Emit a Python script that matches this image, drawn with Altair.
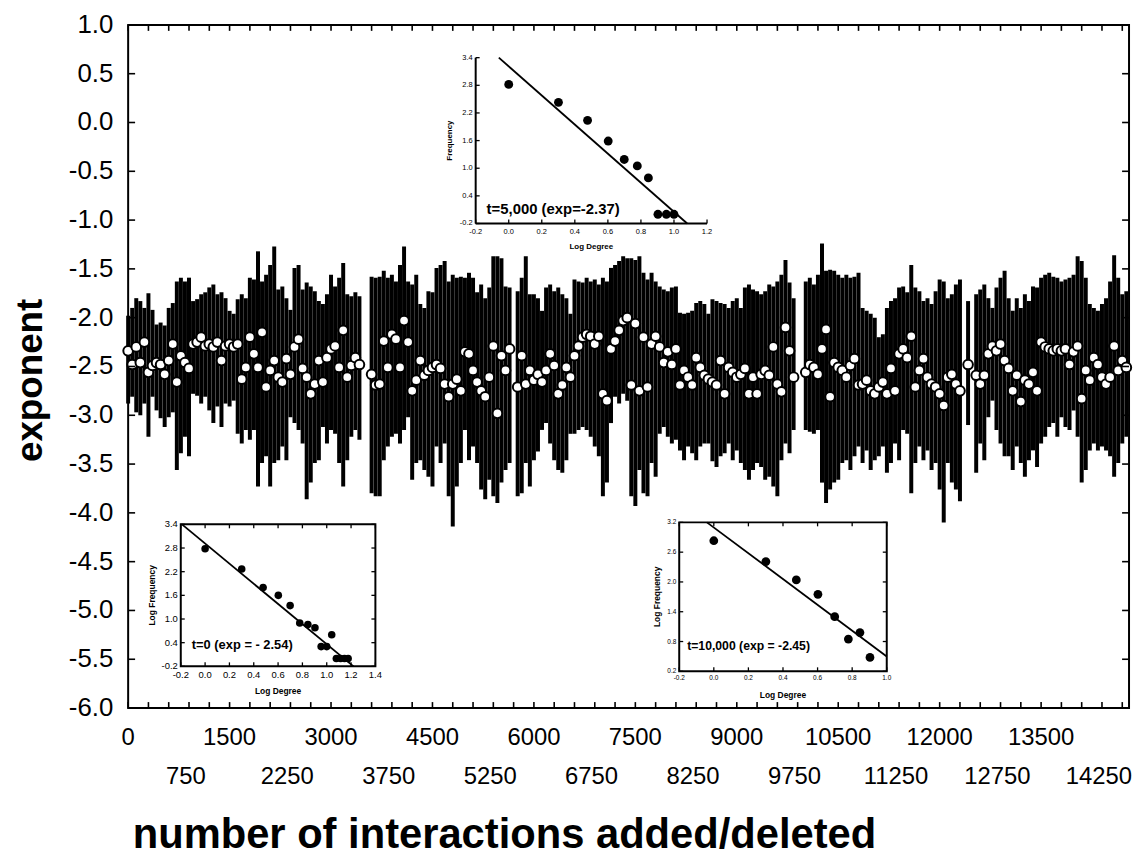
import altair as alt
import pandas as pd

FONT = "Liberation Sans"
W, H = 1008, 688          # plot area in px

# ---------------- main series (exponent vs interactions) ----------------
x_pos = [
    0, 60, 120, 180, 240, 300, 360, 420, 480, 540,
    600, 660, 720, 780, 840, 900, 960, 1020, 1080, 1140,
    1200, 1260, 1320, 1380, 1440, 1500, 1560, 1620, 1680, 1740,
    1800, 1860, 1920, 1980, 2040, 2100, 2160, 2220, 2280, 2340,
    2400, 2460, 2520, 2580, 2640, 2700, 2760, 2820, 2880, 2940,
    3000, 3060, 3120, 3180, 3240, 3300, 3360, 3420, 3600, 3660,
    3720, 3780, 3840, 3900, 3960, 4020, 4080, 4140, 4200, 4260,
    4320, 4380, 4440, 4500, 4560, 4620, 4680, 4740, 4800, 4860,
    4920, 4980, 5040, 5100, 5160, 5220, 5280, 5340, 5400, 5460,
    5520, 5580, 5640,
    5760, 5820, 5880, 5940, 6000, 6060, 6120, 6180, 6240, 6300,
    6360, 6420, 6480, 6540, 6600, 6660, 6720, 6780, 6840, 6900,
    6960, 7020, 7080, 7140, 7200, 7260, 7320, 7380,
    7440, 7500, 7560, 7620, 7680, 7740, 7800, 7860, 7920, 7980,
    8040, 8100, 8160, 8220, 8280, 8340, 8400, 8460, 8520, 8580,
    8640, 8700, 8760, 8820, 8880, 8940, 9000, 9060, 9120, 9180,
    9240, 9300, 9360, 9420, 9480, 9540, 9600, 9660, 9720, 9780,
    9840,
    10020, 10080, 10140, 10200, 10260, 10320, 10380, 10440, 10500, 10560,
    10620, 10680, 10740, 10800, 10860, 10920, 10980, 11040, 11100,
    11160, 11220, 11280, 11340, 11400, 11460, 11520, 11580, 11640, 11700,
    11760, 11820, 11880, 11940, 12000, 12060, 12120, 12180, 12240, 12300,
    12420,
    12540, 12600, 12660, 12720, 12780, 12840, 12900, 12960, 13020, 13080,
    13140, 13200, 13260, 13320, 13380, 13440, 13500, 13560, 13620, 13680,
    13740, 13800, 13860, 13920, 13980, 14040, 14100, 14160, 14220, 14280,
    14340, 14400, 14460, 14520, 14580, 14640, 14700, 14760,
]

exp_mean = [
    -2.34, -2.48, -2.30, -2.46, -2.25, -2.56, -2.49, -2.46, -2.48, -2.58,
    -2.44, -2.27, -2.66, -2.39, -2.46, -2.52, -2.27, -2.25, -2.20, -2.29,
    -2.27, -2.30, -2.25, -2.44, -2.29, -2.27, -2.30, -2.27, -2.63, -2.51,
    -2.20, -2.37, -2.51, -2.15, -2.71, -2.54, -2.44, -2.61, -2.66, -2.42,
    -2.58, -2.30, -2.22, -2.52, -2.61, -2.78, -2.68, -2.44, -2.66, -2.41,
    -2.32, -2.29, -2.51, -2.13, -2.61, -2.49, -2.41, -2.48, -2.58, -2.69,
    -2.68, -2.24, -2.51, -2.17, -2.22, -2.51, -2.03, -2.25, -2.75, -2.64,
    -2.44, -2.59, -2.54, -2.51, -2.48, -2.52, -2.68, -2.81, -2.68, -2.63,
    -2.75, -2.35, -2.37, -2.54, -2.66, -2.75, -2.81, -2.61, -2.29, -2.98,
    -2.39, -2.54, -2.32,
    -2.71, -2.39, -2.68, -2.54, -2.64, -2.58, -2.66, -2.54, -2.37, -2.49,
    -2.78, -2.69, -2.51, -2.61, -2.39, -2.29, -2.20, -2.17, -2.19, -2.27,
    -2.19, -2.78, -2.85, -2.32, -2.24, -2.13, -2.03, -2.00,
    -2.69, -2.06, -2.75, -2.20, -2.71, -2.27, -2.19, -2.30, -2.46, -2.35,
    -2.48, -2.32, -2.69, -2.54, -2.61, -2.69, -2.41, -2.51, -2.59, -2.63,
    -2.66, -2.69, -2.44, -2.78, -2.51, -2.56, -2.61, -2.58, -2.52, -2.78,
    -2.61, -2.78, -2.58, -2.54, -2.59, -2.30, -2.68, -2.76, -2.10, -2.34,
    -2.61,
    -2.56, -2.48, -2.51, -2.58, -2.32, -2.12, -2.81, -2.46, -2.51, -2.54,
    -2.61, -2.49, -2.42, -2.69, -2.68, -2.64, -2.75, -2.78, -2.71,
    -2.66, -2.78, -2.52, -2.75, -2.37, -2.32, -2.41, -2.19, -2.71, -2.54,
    -2.42, -2.61, -2.68, -2.71, -2.78, -2.90, -2.61, -2.58, -2.68, -2.75,
    -2.48,
    -2.59, -2.68, -2.59, -2.37, -2.29, -2.34, -2.27, -2.44, -2.52, -2.75,
    -2.59, -2.86, -2.64, -2.68, -2.56, -2.75, -2.25, -2.30, -2.32, -2.34,
    -2.32, -2.34, -2.32, -2.48, -2.35, -2.29, -2.83, -2.54, -2.64, -2.41,
    -2.48, -2.61, -2.68, -2.61, -2.29, -2.54, -2.44, -2.51,
]

exp_low = [
    -2.88, -2.81, -2.97, -3.00, -2.88, -3.22, -2.81, -2.95, -3.03, -3.12,
    -3.02, -2.97, -3.56, -3.39, -3.22, -3.42, -2.78, -2.80, -2.88, -2.81,
    -2.95, -3.08, -2.91, -3.12, -2.88, -2.91, -2.85, -3.19, -3.29, -3.15,
    -3.25, -3.15, -3.73, -3.49, -3.42, -3.73, -3.49, -3.46, -3.32, -3.46,
    -3.02, -3.08, -3.15, -3.29, -3.86, -3.69, -3.49, -3.46, -3.12, -3.29,
    -3.15, -3.19, -3.49, -3.73, -3.46, -3.22, -3.15, -3.25, -3.80, -3.83,
    -3.83, -3.46, -3.32, -3.22, -3.19, -3.29, -3.15, -3.02, -3.66, -3.49,
    -3.46, -3.56, -3.63, -3.73, -3.32, -3.49, -3.29, -3.83, -4.14, -3.73,
    -3.49, -3.15, -3.46, -3.32, -3.49, -3.76, -3.86, -3.66, -3.83, -3.90,
    -3.69, -3.56, -3.49,
    -3.83, -3.80, -3.49, -3.73, -3.46, -3.37, -3.15, -3.08, -3.29, -3.46,
    -3.56, -3.59, -3.46, -3.19, -3.19, -3.15, -3.12, -3.15, -3.22, -3.32,
    -3.42, -3.83, -3.69, -3.08, -2.81, -2.88, -2.78, -2.85,
    -3.83, -3.93, -3.56, -3.80, -3.83, -3.49, -3.63, -3.19, -3.12, -3.22,
    -3.29, -3.25, -3.36, -3.46, -3.32, -3.39, -3.46, -3.32, -3.29, -3.29,
    -3.47, -3.53, -3.42, -3.39, -3.29, -3.46, -3.36, -3.49, -3.56, -3.66,
    -3.56, -3.49, -3.53, -3.66, -3.63, -3.73, -3.83, -3.46, -3.29, -3.39,
    -3.15,
    -3.15, -3.17, -3.19, -3.15, -3.69, -3.90, -3.76, -3.69, -3.66, -3.49,
    -3.46, -3.56, -3.42, -3.32, -3.49, -3.36, -3.56, -3.46, -3.42,
    -3.32, -3.59, -3.49, -3.29, -3.46, -3.15, -3.19, -3.80, -3.49, -3.32,
    -3.46, -3.36, -3.56, -3.49, -3.76, -4.10, -3.49, -3.69, -3.76, -3.88,
    -3.10,
    -3.59, -3.29, -3.46, -3.02, -2.85, -3.15, -3.29, -3.42, -3.42, -3.56,
    -3.32, -3.49, -3.63, -3.46, -3.36, -3.53, -3.29, -3.22, -3.12, -3.08,
    -3.22, -3.02, -3.12, -3.15, -2.95, -3.22, -3.69, -3.56, -3.36, -3.29,
    -3.36, -3.32, -3.36, -3.42, -3.63, -3.49, -3.29, -3.22,
]

exp_high = [
    -1.98, -1.90, -1.80, -1.83, -1.90, -1.75, -1.92, -2.07, -2.05, -2.08,
    -1.90, -1.85, -1.63, -1.59, -1.63, -1.59, -1.83, -1.81, -1.76, -1.74,
    -1.69, -1.66, -1.76, -1.74, -1.80, -1.93, -1.96, -1.81, -1.76, -1.80,
    -1.59, -1.61, -1.32, -1.63, -1.56, -1.46, -1.27, -1.71, -1.68, -1.80,
    -1.92, -1.49, -1.46, -1.71, -1.64, -1.68, -1.73, -1.83, -1.86, -1.76,
    -1.56, -1.68, -1.59, -1.44, -1.76, -1.78, -1.74, -1.78, -1.58, -1.59,
    -1.58, -1.52, -1.59, -1.56, -1.63, -1.46, -1.27, -1.63, -1.66, -1.56,
    -1.86, -1.90, -1.73, -1.74, -1.49, -1.46, -1.42, -1.63, -1.56, -1.59,
    -1.58, -1.59, -1.54, -1.59, -1.74, -1.66, -1.80, -1.69, -1.37, -1.37,
    -1.39, -1.68, -1.69,
    -1.73, -1.59, -1.37, -1.76, -1.76, -1.80, -1.93, -1.69, -1.66, -1.73,
    -1.69, -1.76, -1.80, -1.96, -1.61, -1.63, -1.64, -1.59, -1.63, -1.61,
    -1.66, -1.59, -1.63, -1.49, -1.46, -1.42, -1.37, -1.39,
    -1.39, -1.41, -1.37, -1.54, -1.61, -1.54, -1.63, -1.68, -1.71, -1.73,
    -1.69, -1.68, -1.95, -1.96, -1.95, -1.93, -1.85, -1.83, -1.86, -1.96,
    -1.81, -1.83, -1.85, -1.86, -1.90, -1.83, -1.80, -1.90, -1.69, -1.66,
    -1.71, -1.73, -1.76, -1.73, -1.66, -1.68, -1.63, -1.56, -1.41, -1.64,
    -1.80,
    -1.63, -1.59, -1.66, -1.56, -1.24, -1.52, -1.51, -1.52, -1.56, -1.59,
    -1.56, -1.59, -1.58, -1.54, -1.90, -1.93, -1.96, -2.00, -2.20,
    -2.17, -1.90, -1.83, -1.80, -1.69, -1.68, -1.74, -1.46, -1.69, -1.73,
    -1.83, -1.80, -1.86, -1.73, -1.61, -1.63, -1.80, -1.76, -1.66, -1.61,
    -1.83,
    -1.76, -1.71, -1.66, -1.80, -1.90, -1.69, -1.59, -1.52, -1.80, -1.93,
    -1.80, -1.90, -1.76, -1.83, -1.68, -1.69, -1.59, -1.56, -1.54, -1.58,
    -1.59, -1.63, -1.61, -1.59, -1.56, -1.37, -1.42, -1.59, -1.86, -1.90,
    -1.93, -1.86, -1.80, -1.63, -1.36, -1.59, -1.76, -1.73,
]

# main axes: tick values and labels
x_row1_values = [0, 1500, 3000, 4500, 6000, 7500, 9000, 10500, 12000, 13500]
x_row1_labels = ["0", "1500", "3000", "4500", "6000", "7500", "9000", "10500", "12000", "13500"]
x_row2_values = [750, 2250, 3750, 5250, 6750, 8250, 9750, 11250, 12750, 14250]
x_row2_labels = ["750", "2250", "3750", "5250", "6750", "8250", "9750", "11250", "12750", "14250"]
y_tick_values = [-6.0, -5.5, -5.0, -4.5, -4.0, -3.5, -3.0, -2.5, -2.0, -1.5,
                 -1.0, -0.5, 0.0, 0.5, 1.0]
y_tick_labels = ["-6.0", "-5.5", "-5.0", "-4.5", "-4.0", "-3.5", "-3.0", "-2.5", "-2.0",
                 "-1.5", "-1.0", "-0.5", "0.0", "0.5", "1.0"]
x_minor_ticks = list(range(0, 14800, 300))
X_DOMAIN = [0, 14800]
Y_DOMAIN = [-6.0, 1.0]
X_TITLE = "number of interactions added/deleted"
Y_TITLE = "exponent"

# ---------------- inset data ----------------
deg_t5 = [0.0, 0.301, 0.477, 0.602, 0.699, 0.778, 0.845, 0.903, 0.954, 1.0]
freq_t5 = [2.82, 2.43, 2.04, 1.59, 1.19, 1.05, 0.79, 0.0, 0.0, 0.0]
fit_t5_x = [-0.06, 1.08]
fit_t5_y = [3.4, -0.2]
t5_x_ticks = [-0.2, 0.0, 0.2, 0.4, 0.6, 0.8, 1.0, 1.2]
t5_x_labels = ["-0.2", "0.0", "0.2", "0.4", "0.6", "0.8", "1.0", "1.2"]
t5_y_ticks = [-0.2, 0.4, 1.0, 1.6, 2.2, 2.8, 3.4]
t5_y_labels = ["-0.2", "0.4", "1.0", "1.6", "2.2", "2.8", "3.4"]

deg_t0 = [0.0, 0.301, 0.477, 0.602, 0.699, 0.778, 0.845, 0.903, 0.954, 1.0,
          1.041, 1.079, 1.114, 1.146, 1.176]
freq_t0 = [2.78, 2.27, 1.80, 1.60, 1.34, 0.90, 0.86, 0.78, 0.30, 0.30,
           0.60, 0.0, 0.0, 0.0, 0.0]
fit_t0_x = [-0.19, 1.22]
fit_t0_y = [3.4, -0.2]
t0_x_ticks = [-0.2, 0.0, 0.2, 0.4, 0.6, 0.8, 1.0, 1.2, 1.4]
t0_x_labels = ["-0.2", "0.0", "0.2", "0.4", "0.6", "0.8", "1.0", "1.2", "1.4"]
t0_y_ticks = [-0.2, 0.4, 1.0, 1.6, 2.2, 2.8, 3.4]
t0_y_labels = ["-0.2", "0.4", "1.0", "1.6", "2.2", "2.8", "3.4"]

deg_t10 = [0.0, 0.301, 0.477, 0.602, 0.699, 0.778, 0.845, 0.903]
freq_t10 = [2.83, 2.41, 2.04, 1.75, 1.30, 0.85, 0.98, 0.48]
fit_t10_x = [-0.04, 1.0]
fit_t10_y = [3.2, 0.5]
t10_x_ticks = [-0.2, 0.0, 0.2, 0.4, 0.6, 0.8, 1.0]
t10_x_labels = ["-0.2", "0.0", "0.2", "0.4", "0.6", "0.8", "1.0"]
t10_y_ticks = [0.2, 0.8, 1.4, 2.0, 2.6, 3.2]
t10_y_labels = ["0.2", "0.8", "1.4", "2.0", "2.6", "3.2"]


# ---------------- helpers ----------------
def seg_rules(rows, xs, ys, sw):
    return alt.Chart(pd.DataFrame(rows)).mark_rule(color="black", strokeWidth=sw).encode(
        x=alt.X("x:Q", scale=xs, axis=None), x2="x2:Q",
        y=alt.Y("y:Q", scale=ys, axis=None), y2="y2:Q",
    )


def tick_rows(xt, yt, xd, yd, xlen, ylen, all_sides=True):
    rows = []
    for t in xt:
        rows.append(dict(x=t, x2=t, y=yd[0], y2=yd[0] + ylen))
        if all_sides:
            rows.append(dict(x=t, x2=t, y=yd[1], y2=yd[1] - ylen))
    for t in yt:
        rows.append(dict(x=xd[0], x2=xd[0] + xlen, y=t, y2=t))
        if all_sides:
            rows.append(dict(x=xd[1], x2=xd[1] - xlen, y=t, y2=t))
    return rows


def x_labels(values, labels, xs, ypix, size, dx=0):
    return alt.Chart(pd.DataFrame({"v": values, "t": labels})).mark_text(
        font=FONT, fontSize=size, color="black", align="center", baseline="middle",
        dx=dx).encode(
        x=alt.X("v:Q", scale=xs, axis=None), y=alt.value(ypix), text="t:N")


def y_labels(values, labels, ys, xpix, size):
    return alt.Chart(pd.DataFrame({"v": values, "t": labels})).mark_text(
        font=FONT, fontSize=size, color="black", align="right", baseline="middle").encode(
        y=alt.Y("v:Q", scale=ys, axis=None), x=alt.value(xpix), text="t:N")


def title_text(text, xpix, ypix, size, angle=0):
    return alt.Chart(pd.DataFrame({"t": [text]})).mark_text(
        font=FONT, fontSize=size, fontWeight="bold", color="black", align="center",
        baseline="middle", angle=angle).encode(
        x=alt.value(xpix), y=alt.value(ypix), text="t:N")


# ---------------- main layer ----------------
n = min(len(x_pos), len(exp_mean), len(exp_low), len(exp_high))
main_df = pd.DataFrame({"x": x_pos[:n], "mean": exp_mean[:n],
                        "low": exp_low[:n], "high": exp_high[:n]})

mxs = alt.Scale(domain=X_DOMAIN, nice=False, zero=False)
mys = alt.Scale(domain=Y_DOMAIN, nice=False, zero=False)

bars = alt.Chart(main_df).mark_rule(color="black", strokeWidth=4.0).encode(
    x=alt.X("x:Q", scale=mxs, axis=None),
    y=alt.Y("low:Q", scale=mys, axis=None),
    y2="high:Q",
)
pts = alt.Chart(main_df).mark_circle(fill="white", stroke="black", strokeWidth=2,
                                     size=95, opacity=1).encode(
    x=alt.X("x:Q", scale=mxs, axis=None),
    y=alt.Y("mean:Q", scale=mys, axis=None),
)
main_ticks = seg_rules(
    tick_rows(x_minor_ticks, y_tick_values, X_DOMAIN, Y_DOMAIN,
              7 * (X_DOMAIN[1] - X_DOMAIN[0]) / W, 6 * (Y_DOMAIN[1] - Y_DOMAIN[0]) / H),
    mxs, mys, 1.6)
main_layer = alt.layer(
    bars, pts, main_ticks,
    x_labels(x_row1_values, x_row1_labels, mxs, H + 30, 24),
    x_labels(x_row2_values, x_row2_labels, mxs, H + 69, 24, dx=7),
    y_labels(y_tick_values, y_tick_labels, mys, -15, 26),
    title_text(X_TITLE, 379, H + 128, 42),
    title_text(Y_TITLE, -98, 358, 37, angle=270),
)


# ---------------- insets ----------------
def make_inset(deg, freq, fit_x, fit_y, label, label_xy, label_size,
               xdom, ydom, xpx, ypx, xt, xl, yt, yl, lab_size, ytitle, title_size,
               ytitle_dx, xlab_dy, xtitle_dy, pt_size, full_box):
    xs = alt.Scale(domain=xdom, range=xpx, nice=False, zero=False)
    ys = alt.Scale(domain=ydom, range=ypx, nice=False, zero=False)
    frame_df = pd.DataFrame({"x": [xdom[0]], "x2": [xdom[1]], "y": [ydom[0]], "y2": [ydom[1]]})
    frame = alt.Chart(frame_df).mark_rect(
        fill="white", stroke="black" if full_box else None,
        strokeWidth=2 if full_box else 0).encode(
        x=alt.X("x:Q", scale=xs, axis=None), x2="x2:Q",
        y=alt.Y("y:Q", scale=ys, axis=None), y2="y2:Q",
    )
    xlen = 4 * (xdom[1] - xdom[0]) / abs(xpx[1] - xpx[0])
    ylen = 4 * (ydom[1] - ydom[0]) / abs(ypx[1] - ypx[0])
    layers = [frame]
    if not full_box:
        layers.append(seg_rules(
            [dict(x=xdom[0], x2=xdom[1], y=ydom[0], y2=ydom[0]),
             dict(x=xdom[0], x2=xdom[0], y=ydom[0], y2=ydom[1])], xs, ys, 2))
    layers.append(seg_rules(tick_rows(xt, yt, xdom, ydom, xlen, ylen, full_box), xs, ys, 1.3))
    layers.append(alt.Chart(pd.DataFrame({"x": fit_x, "y": fit_y})).mark_line(
        color="black", strokeWidth=1.8).encode(
        x=alt.X("x:Q", scale=xs, axis=None), y=alt.Y("y:Q", scale=ys, axis=None)))
    layers.append(alt.Chart(pd.DataFrame({"x": deg, "y": freq})).mark_circle(
        color="black", size=pt_size, opacity=1).encode(
        x=alt.X("x:Q", scale=xs, axis=None), y=alt.Y("y:Q", scale=ys, axis=None)))
    layers.append(alt.Chart(pd.DataFrame({"x": [label_xy[0]], "y": [label_xy[1]],
                                          "t": [label]})).mark_text(
        align="left", baseline="middle", font=FONT, fontWeight="bold",
        fontSize=label_size, color="black").encode(
        x=alt.X("x:Q", scale=xs, axis=None), y=alt.Y("y:Q", scale=ys, axis=None),
        text="t:N"))
    layers.append(x_labels(xt, xl, xs, ypx[0] + xlab_dy, lab_size))
    layers.append(y_labels(yt, yl, ys, xpx[0] - 3, lab_size))
    layers.append(title_text("Log Degree", (xpx[0] + xpx[1]) / 2, ypx[0] + xtitle_dy, title_size))
    layers.append(title_text(ytitle, xpx[0] + ytitle_dx, (ypx[0] + ypx[1]) / 2,
                             title_size, angle=270))
    return alt.layer(*layers)


inset_t5 = make_inset(
    deg_t5, freq_t5, fit_t5_x, fit_t5_y, "t=5,000 (exp=-2.37)", (-0.134, 0.12), 15,
    [-0.2, 1.2], [-0.2, 3.4], [350, 583], [200, 33],
    t5_x_ticks, t5_x_labels, t5_y_ticks, t5_y_labels,
    7.5, "Frequency", 8, -26, 9, 24, 80, False)

inset_t0 = make_inset(
    deg_t0, freq_t0, fit_t0_x, fit_t0_y, "t=0 (exp = - 2.54)", (-0.11, 0.34), 13,
    [-0.2, 1.4], [-0.2, 3.4], [53, 249], [646, 503],
    t0_x_ticks, t0_x_labels, t0_y_ticks, t0_y_labels,
    9.5, "Log Frequency", 8.5, -29, 9, 25, 58, True)

inset_t10 = make_inset(
    deg_t10, freq_t10, fit_t10_x, fit_t10_y, "t=10,000 (exp = -2.45)", (-0.154, 0.71), 12.3,
    [-0.2, 1.0], [0.2, 3.2], [555, 764], [651, 501],
    t10_x_ticks, t10_x_labels, t10_y_ticks, t10_y_labels,
    6.5, "Log Frequency", 8.5, -22, 7, 24, 78, True)

chart = alt.layer(main_layer, inset_t5, inset_t0, inset_t10).resolve_scale(
    x="independent", y="independent"
).properties(
    width=W, height=H,
    padding={"left": 121, "top": 14, "right": 4, "bottom": 149},
    autosize=alt.AutoSizeParams(type="none"),
    background="white",
).configure_view(stroke="black", strokeWidth=2)

chart.save("out.html", embed_options={"renderer": "svg", "actions": False})
